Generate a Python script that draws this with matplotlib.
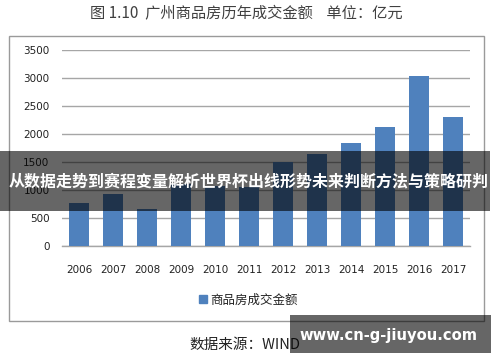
import matplotlib
matplotlib.use("Agg")
import matplotlib.pyplot as plt
from matplotlib.patches import Rectangle, Patch

plt.rcParams['font.family'] = ['Noto Sans CJK SC', 'DejaVu Sans']

# 广州商品房历年成交金额（亿元）
years = ['2006', '2007', '2008', '2009', '2010', '2011',
         '2012', '2013', '2014', '2015', '2016', '2017']
amount = [768, 930, 655, 1100, 1080, 1050, 1505, 1640, 1845, 2125, 3036, 2304]
y_ticks = [0, 500, 1000, 1500, 2000, 2500, 3000, 3500]

bar_color = '#4f81bd'
grid_color = '#a6a6a6'

fig = plt.figure(figsize=(5, 3.62), dpi=100)
ax = fig.add_axes([0.124, 0.3204, 0.816, 0.5415])

x = range(len(years))
ax.bar(x, amount, width=0.58, color=bar_color, zorder=3)
ax.set_xlim(-0.5, len(years) - 0.5)
ax.set_ylim(0, 3500)
ax.set_yticks(y_ticks)
ax.set_xticks(list(x))
ax.set_xticklabels(years)
ax.tick_params(axis='both', length=0, labelsize=7.5, colors='#222222')
ax.tick_params(axis='x', pad=14)
ax.tick_params(axis='y', pad=9)
for lbl in ax.get_xticklabels() + ax.get_yticklabels():
    lbl.set_family('DejaVu Sans')
ax.yaxis.grid(True, color=grid_color, linewidth=1, zorder=0)
for s in ['left', 'right', 'top']:
    ax.spines[s].set_visible(False)
ax.spines['bottom'].set_color(grid_color)
ax.spines['bottom'].set_linewidth(1)

# chart frame
fig.add_artist(Rectangle((9 / 500, 1 - 321 / 362), 475 / 500, 285 / 362,
                         transform=fig.transFigure, fill=False,
                         edgecolor='#9a9a9a', linewidth=1, zorder=1))

fig.legend(handles=[Patch(color=bar_color, label='商品房成交金额')],
           loc='center', bbox_to_anchor=(0.497, 0.171), frameon=False,
           fontsize=9, handlelength=0.6, handleheight=0.6, handletextpad=0.3,
           labelcolor='#222222')

fig.text(0.492, 0.961, '图 1.10  广州商品房历年成交金额    单位：亿元',
         ha='center', va='center', fontsize=11, color='#404040')
fig.text(0.49, 0.047, '数据来源：WIND', ha='center', va='center',
         fontsize=10.5, color='#222222')

# overlay banner
fig.add_artist(Rectangle((0, 1 - 211 / 362), 0.98, 60 / 362,
                         transform=fig.transFigure, color='black',
                         alpha=0.6, linewidth=0, zorder=10))
fig.text(0.498, 0.5, '从数据走势到赛程变量解析世界杯出线形势未来判断方法与策略研判',
         ha='center', va='center', fontsize=11.5, fontweight='bold',
         color='white', zorder=11)

# bottom watermark
fig.add_artist(Rectangle((0.58, 1 - 353 / 362), 0.402, 38 / 362,
                         transform=fig.transFigure, color='black',
                         alpha=0.6, linewidth=0, zorder=10))
fig.text(0.777, 0.072, 'www.cn-g-jiuyou.com', ha='center', va='center',
         fontsize=10.6, fontweight='bold', color='white',
         family='DejaVu Sans', zorder=11)

fig.savefig('out.png', dpi=100)
